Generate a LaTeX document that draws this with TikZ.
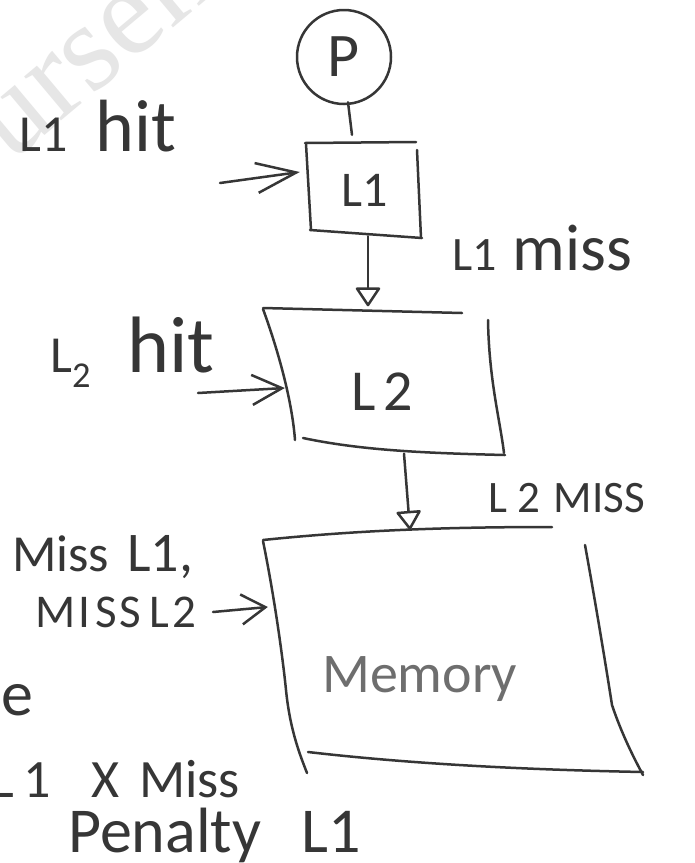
\documentclass[tikz,border=0pt]{standalone}
\usepackage{fontspec}
\setmainfont{Carlito}
\newfontfamily\wmfont{Liberation Serif}
\usetikzlibrary{arrows.meta,calc}
\definecolor{ink}{HTML}{363636}
\definecolor{pencil}{HTML}{6E6E6E}
\definecolor{wmark}{HTML}{E6E6E6}
\newcommand{\fsz}[1]{\fontsize{#1}{#1}\selectfont}

\begin{document}
\begin{tikzpicture}[x=1pt,y=-1pt,
  stroke/.style={draw=ink, line width=2.5pt, line cap=round, line join=round},
  lbl/.style={inner sep=0pt, anchor=base west, text=ink},
  holder/.style={draw=none, inner sep=0pt},
  hitarrow/.style={stroke, -{Straight Barb[length=#1, width=30pt]}},
  hitarrow/.default=38pt,
  misstip/.style={stroke, -{Triangle[open, round, length=20pt, width=26pt]}}
]
\useasboundingbox (0,0) rectangle (695,863);
\clip (0,0) rectangle (695,863);
\fill[white] (0,0) rectangle (695,863);

% faint background watermark
\node[inner sep=0pt, anchor=base west, rotate=40, text=wmark,
      font=\wmfont\fsz{125}] (wm) at (-100,257) {Coursehero};

% processor
\node[circle, stroke, minimum size=94pt, inner sep=0pt, text=ink,
      font=\fsz{62}] (P) at (344,57) {P};

% L1 cache
\node[holder, minimum width=114pt, minimum height=96pt] (l1box) at (364,190) {};
\node[inner sep=0pt, text=ink, font=\fsz{50}] (l1txt) at (365,190) {L1};
\draw[stroke] (305,143) -- (416,142);
\draw[stroke] (306,144) -- (311,230);
\draw[stroke] (417,150) -- (421,238);
\draw[stroke] (310,230) -- (422,238);

% L2 cache
\node[holder, minimum width=242pt, minimum height=147pt] (l2box) at (384,381) {};
\node[inner sep=0pt, text=ink, font=\fsz{58}] (l2txt) at (382,392) {L\hspace{8pt}2};
\draw[stroke] (263,308) -- (462,313);
\draw[stroke] (263,309) .. controls (278,350) and (292,400) .. (295,440);
\draw[stroke] (488,320) .. controls (489,380) and (500,420) .. (504,453);
\draw[stroke] (303,438) .. controls (360,450) and (420,453) .. (505,455);

% main memory
\node[holder, minimum width=380pt, minimum height=246pt] (membox) at (453,650) {};
\node[lbl, text=pencil, font=\fsz{56}] (memtxt) at (322,692) {Memory};
\draw[stroke] (263,540) .. controls (360,530) and (450,527) .. (552,527);
\draw[stroke] (263,541) .. controls (275,600) and (283,660) .. (286,690)
                        .. controls (290,730) and (300,755) .. (307,773);
\draw[stroke] (585,545) .. controls (595,600) and (605,660) .. (612,705)
                        .. controls (622,735) and (635,760) .. (643,775);
\draw[stroke] (308,752) .. controls (420,765) and (540,770) .. (643,772);

% connectors
\draw[stroke] ($(P.south)+(4,-3)$) -- ($(l1box.north)+(-12,-7)$);
\draw[misstip] ($(l1box.south)+(4,-2)$) -- ($(l2box.north)+(-16,-1)$);
\draw[misstip] ($(l2box.south)+(20,-1)$) -- ($(membox.north)+(-43,3)$);

% hit and miss labels with their arrows
\node[lbl] (l1hit) at (19,151) {{\fsz{52}L1}\hspace{28pt}{\fsz{74}hit}};
\coordinate (l1hitfrom) at (220,183);
\draw[hitarrow=40pt] (l1hitfrom) -- ($(l1box.west)+(-7,-18)$);

\node[lbl] (l1miss) at (452,270) {{\fsz{48}L1}\hspace{16pt}{\fsz{66}miss}};

\node[lbl] (l2hit) at (50,372) {{\fsz{52}L\textsubscript{2}}\hspace{36pt}{\fsz{80}hit}};
\coordinate (l2hitfrom) at (198,393);
\draw[hitarrow=30pt] (l2hitfrom) -- ($(l2box.west)+(22,7)$);

\node[lbl, font=\fsz{45}] (l2miss) at (488,512) {L\hspace{10pt}2\hspace{14pt}MISS};

\node[lbl] (missl1) at (12,571) {{\fsz{52}Miss}\hspace{18pt}{\fsz{56}L1,}};
\node[lbl, font=\fsz{47}] (missl2) at (35,627)
  {M\hspace{3pt}I\hspace{5pt}S\hspace{3pt}S\hspace{8pt}L\hspace{3pt}2};
\coordinate (missfrom) at (213,612);
\draw[hitarrow=24pt] (missfrom) -- ($(membox.west)+(5,-43)$);

% penalty note along the left edge
\node[inner sep=0pt, anchor=base east, text=ink, font=\fsz{64}] (etail) at (34,715) {e};
\node[lbl, font=\fsz{54}] (penline) at (-9,797)
  {L\hspace{10pt}1\hspace{40pt}X\hspace{20pt}Miss};
\node[lbl] (penalty) at (68,852) {{\fsz{64}Penalty}\hspace{40pt}{\fsz{64}L1}};
\end{tikzpicture}
\end{document}
